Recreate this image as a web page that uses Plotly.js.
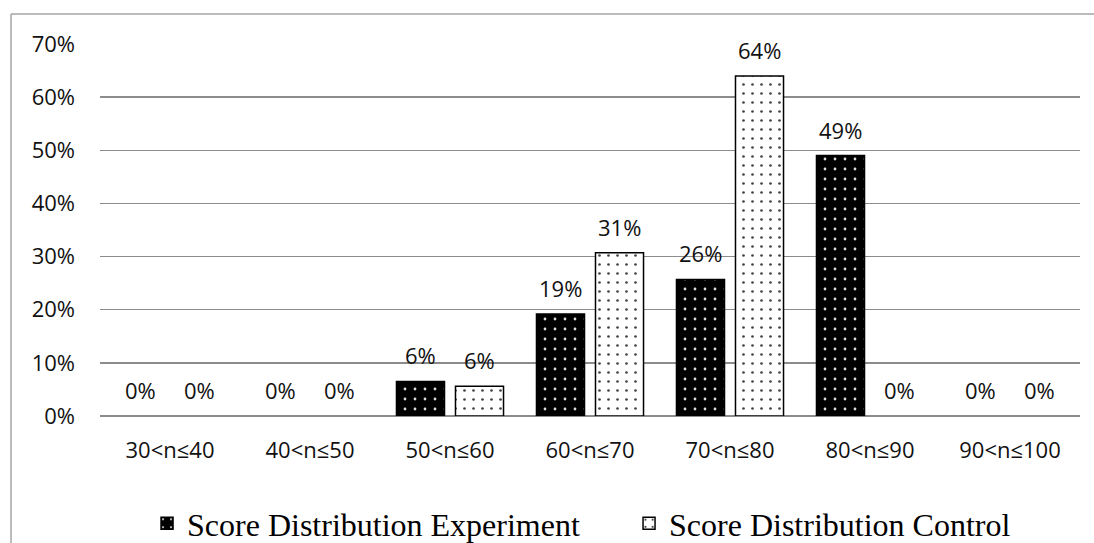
<!DOCTYPE html>
<html>
<head>
<meta charset="utf-8">
<script src="https://cdn.plot.ly/plotly-3.0.1.min.js"></script>
<style>html,body{margin:0;padding:0;background:#fff;}#chart{width:1094px;height:543px;}</style>
</head>
<body>
<div id="chart"></div>
<script>
var categories = ["30<n≤40","40<n≤50","50<n≤60","60<n≤70","70<n≤80","80<n≤90","90<n≤100"];
var experiment = [0, 0, 0.065, 0.192, 0.257, 0.490, 0];
var control    = [0, 0, 0.056, 0.307, 0.640, 0, 0];
var expLabels  = ["0%","0%","6%","19%","26%","49%","0%"];
var ctlLabels  = ["0%","0%","6%","31%","64%","0%","0%"];
var yTickVals  = [0,0.1,0.2,0.3,0.4,0.5,0.6,0.7];
var yTickText  = ["0%","10%","20%","30%","40%","50%","60%","70%"];
var seriesNames = ["Score Distribution Experiment","Score Distribution Control"];

var tickFont = {family:"Open Sans, Noto Sans, sans-serif", size:22, color:"#111"};
// zero-height bars draw no outline (as in the reference)
function visibleBars(arr){ return arr.map(function(v){ return v > 0 ? v : null; }); }

var traces = [
  {type:"bar", name:seriesNames[0], x:categories, y:visibleBars(experiment), legendwidth:437,
   marker:{color:"#000", line:{color:"#000", width:1.5},
     pattern:{shape:".", bgcolor:"#000", fgcolor:"#dcdcdc", size:10, solidity:0.06, fillmode:"replace"}},
   hoverinfo:"skip"},
  {type:"bar", name:seriesNames[1], x:categories, y:visibleBars(control), legendwidth:345,
   marker:{color:"#fff", line:{color:"#000", width:1.5},
     pattern:{shape:".", bgcolor:"#fff", fgcolor:"#444", size:9, solidity:0.07, fillmode:"replace"}},
   hoverinfo:"skip"}
];

var annotations = [];
var groups = [[experiment, expLabels, -29.5],[control, ctlLabels, 29.5]];
groups.forEach(function(g){
  categories.forEach(function(c, i){
    annotations.push({x:c, y:g[0][i], xref:"x", yref:"y", text:g[1][i], showarrow:false,
      xshift:g[2], yshift:26, yanchor:"middle", xanchor:"center", font:tickFont});
  });
});

var layout = {
  width:1094, height:543,
  margin:{l:100, r:14, t:44, b:127, pad:0},
  paper_bgcolor:"#fff", plot_bgcolor:"#fff",
  barmode:"group", bargap:0.157, bargroupgap:0.186,
  showlegend:true,
  legend:{orientation:"h", x:0.048, xanchor:"left", yref:"container", y:0.036, yanchor:"middle",
    font:{family:"Liberation Serif, Times New Roman, serif", size:32, color:"#000"},
    entrywidthmode:"pixels", bgcolor:"rgba(0,0,0,0)", itemclick:false},
  xaxis:{type:"category", tickfont:tickFont, ticks:"", showgrid:false, showline:false, zeroline:false,
    ticklabelstandoff:19, fixedrange:true},
  yaxis:{range:[0,0.7], tickvals:yTickVals, ticktext:yTickText, tickfont:tickFont, ticks:"",
    showgrid:true, gridcolor:"#8c8c8c", gridwidth:1.5, zeroline:true, zerolinecolor:"#8c8c8c", zerolinewidth:1.5,
    showline:false, ticklabelstandoff:24, fixedrange:true},
  annotations:annotations,
  shapes:[
    {type:"line", xref:"paper", yref:"paper", x0:-0.0908, x1:-0.0908, y0:1.0805, y1:-0.4, line:{color:"#a6a6a6", width:1.5}},
    {type:"line", xref:"paper", yref:"paper", x0:-0.0908, x1:1.05, y0:1.0805, y1:1.0805, line:{color:"#a6a6a6", width:1.5}}
  ]
};

Plotly.newPlot("chart", traces, layout, {displayModeBar:false, staticPlot:true});
</script>
</body>
</html>
